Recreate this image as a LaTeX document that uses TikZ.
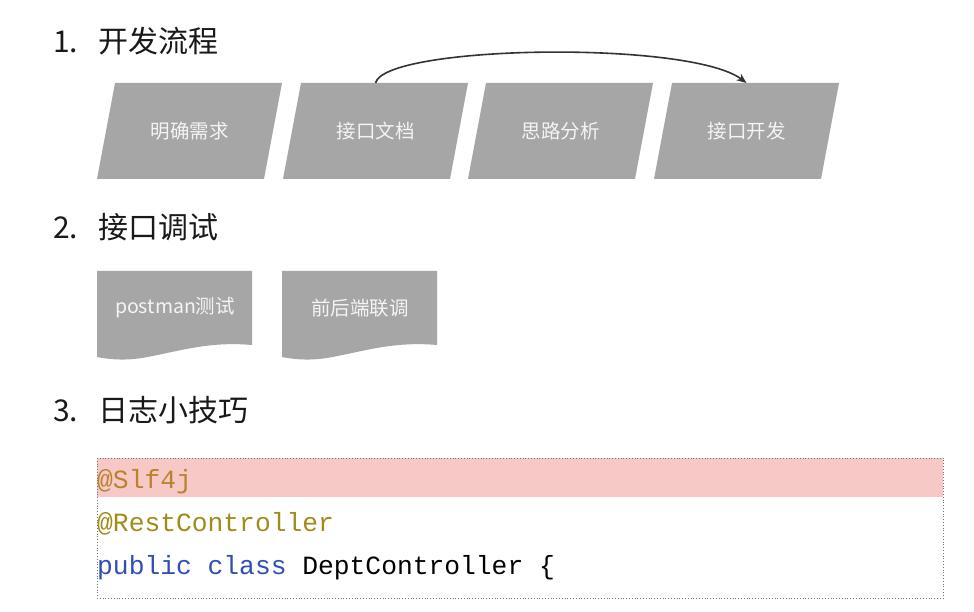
\documentclass[tikz,border=0pt]{standalone}
\usepackage{fontspec}
\setmainfont{Noto Sans CJK SC}
\newfontfamily\codefont{Liberation Mono}
\usetikzlibrary{arrows.meta}
\definecolor{boxgray}{HTML}{A6A6A6}
\definecolor{boxtext}{HTML}{F4F4F4}
\definecolor{pinkband}{HTML}{F7C9C6}
\definecolor{anncolA}{HTML}{B9822E}
\definecolor{anncolB}{HTML}{A08C18}
\definecolor{kwblue}{HTML}{2F4FB5}
\tikzset{
  heading/.style={anchor=west, font=\fontsize{30}{33}\selectfont, text=black!90, inner sep=0pt},
  boxlabel/.style={font=\fontsize{19.5}{22}\selectfont, text=boxtext, inner sep=0pt},
  parbox/.style={fill=boxgray, draw=none},
  docbox/.style={fill=boxgray, draw=none},
  codeline/.style={anchor=base west, font=\codefont\fontsize{26.3}{30}\selectfont, inner sep=0pt},
  flowarrow/.style={draw=black!80, line width=1.6pt, -{Stealth[length=10pt,width=8pt]}}
}
\begin{document}
\begin{tikzpicture}[x=1pt,y=-1pt]
\useasboundingbox[fill=white] (0,0) rectangle (974,612);
% headings
\node[heading] (h1) at (53,41) {1.\hspace{20pt}开发流程};
\node[heading] (h2) at (53,227) {2.\hspace{20pt}接口调试};
\node[heading] (h3) at (53,410) {3.\hspace{20pt}日志小技巧};
% parallelograms
\foreach \i/\x/\t in {1/97/明确需求, 2/283/接口文档, 3/468/思路分析, 4/654/接口开发}{
  \fill[parbox] (\x,179) -- (\x+18,83) -- (\x+185,83) -- (\x+167,179) -- cycle;
  \node[boxlabel] (p\i) at (\x+92.5,131) {\t};
  \coordinate (t\i) at (\x+92.5,83);
}
\draw[flowarrow] (t2) .. controls (385,45) and (690,40) .. (t4);
% document shapes
\foreach \i/\x/\t in {1/97/postman测试, 2/282/前后端联调}{
  \fill[docbox] (\x,271) -- (\x+155,271) -- (\x+155,345)
     .. controls (\x+110,341) and (\x+80,352) .. (\x+45,358)
     .. controls (\x+25,361) and (\x+10,359) .. (\x,357) -- cycle;
  \node[boxlabel] (d\i) at (\x+78,308) {\t};
}
% code box
\fill[pinkband] (97,458) rectangle (943,497);
\draw[black!55, line width=0.8pt, dotted] (97,458) rectangle (943,598);
\node[codeline, text=anncolA] (c1) at (97,488) {@Slf4j};
\node[codeline, text=anncolB] (c2) at (97,531) {@RestController};
\node[codeline] (c3) at (97,574) {\textcolor{kwblue}{public class} DeptController \{};
\end{tikzpicture}
\end{document}
